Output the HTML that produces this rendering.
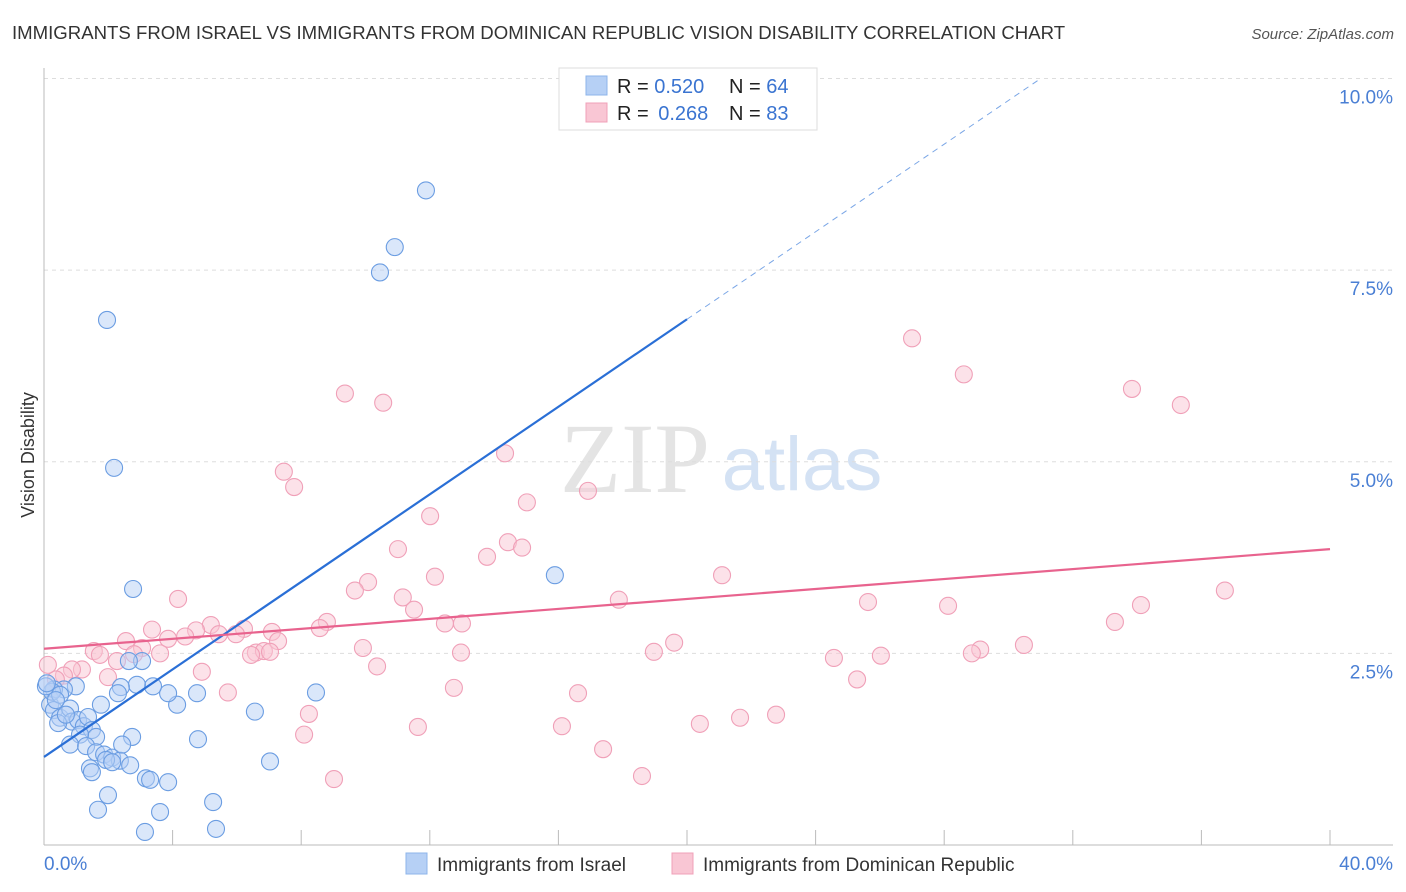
<!DOCTYPE html>
<html><head><meta charset="utf-8"><style>
body{margin:0;background:#fff;font-family:"Liberation Sans",sans-serif;}
svg{display:block}
</style></head><body>
<svg id="chart" width="1406" height="892" font-family="Liberation Sans, sans-serif">
<text x="12" y="39" font-size="18.6" fill="#333">IMMIGRANTS FROM ISRAEL VS IMMIGRANTS FROM DOMINICAN REPUBLIC VISION DISABILITY CORRELATION CHART</text>
<text x="1394" y="39" font-size="15" fill="#555" font-style="italic" text-anchor="end">Source: ZipAtlas.com</text>
<text x="34" y="455" font-size="18" fill="#333" text-anchor="middle" transform="rotate(-90 34 455)">Vision Disability</text>
<g>
<text x="635" y="492" font-size="100" fill="#e4e4e4" font-family="Liberation Serif, serif" text-anchor="middle">ZIP</text>
<text x="802" y="490" font-size="76" fill="#d4e2f4" text-anchor="middle">atlas</text>
</g>
<g id="grid"></g><g id="axes"></g><g id="pts"></g><g id="lines"></g>
<g>
<rect x="559" y="68" width="258" height="62" fill="#fff" stroke="#ddd"/>
<rect x="586" y="76" width="21" height="19" fill="#b6d0f5" stroke="#8db4ea"/>
<rect x="586" y="103" width="21" height="19" fill="#f9c6d4" stroke="#f0a0b8"/>
<text x="617" y="93" font-size="20" fill="#222">R = <tspan fill="#3a74d1">0.520</tspan><tspan x="729">N = </tspan><tspan fill="#3a74d1">64</tspan></text>
<text x="617" y="120" font-size="20" fill="#222">R = <tspan fill="#3a74d1" dx="4">0.268</tspan><tspan x="729">N = </tspan><tspan fill="#3a74d1">83</tspan></text>
</g>
<g>
<rect x="406" y="853" width="21" height="21" fill="#b6d0f5" stroke="#8db4ea"/>
<text x="437" y="871" font-size="19" fill="#333">Immigrants from Israel</text>
<rect x="672" y="853" width="21" height="21" fill="#f9c6d4" stroke="#f0a0b8"/>
<text x="703" y="871" font-size="19" fill="#333">Immigrants from Dominican Republic</text>
</g>
</svg>
<script>
const yTicks=[2.5,5,7.5,10];
const yTickLabels=["2.5%","5.0%","7.5%","10.0%"];
const xTickVals=[0,4,8,12,16,20,24,28,32,36,40];
const xEndLabels=["0.0%","40.0%"];
const israelX=[11.88,10.91,10.45,1.96,2.18,2.77,15.89,8.46,6.56,7.03,4.76,4.79,4.14,3.86,3.39,2.89,3.05,2.64,2.39,2.30,1.77,0.99,0.62,0.31,0.19,0.31,0.50,0.81,0.87,1.06,1.24,1.37,1.49,1.62,1.12,0.81,1.31,1.62,1.87,2.12,2.36,2.68,1.43,1.93,2.74,2.43,1.49,1.99,1.68,3.17,3.30,3.86,3.61,3.14,5.26,5.35,0.25,0.06,0.44,0.68,0.50,0.09,2.12,0.37];
const israelY=[8.54,7.80,7.47,6.85,4.92,3.34,3.52,1.99,1.74,1.09,1.98,1.38,1.83,1.98,2.07,2.09,2.40,2.40,2.06,1.98,1.83,2.07,2.03,2.03,1.83,1.76,1.66,1.78,1.61,1.63,1.55,1.67,1.50,1.41,1.44,1.31,1.29,1.21,1.18,1.14,1.10,1.04,1.00,1.11,1.41,1.31,0.95,0.65,0.46,0.87,0.85,0.82,0.43,0.17,0.56,0.21,2.00,2.07,1.59,1.70,1.96,2.11,1.08,1.89];
const domX=[27.00,28.61,33.84,35.36,9.36,10.55,14.34,7.46,7.78,16.92,15.02,12.01,14.43,11.01,14.87,13.78,21.09,12.16,10.08,9.67,11.16,11.51,17.88,25.63,28.12,36.73,34.12,33.31,8.80,8.58,7.09,4.17,5.19,4.73,4.39,3.86,3.36,2.55,3.05,2.80,1.55,1.74,6.22,5.97,5.44,7.28,13.00,12.47,9.92,12.97,19.60,18.97,6.59,6.84,7.03,6.44,30.48,29.12,28.86,26.03,24.57,10.36,4.91,3.61,2.27,1.99,1.18,0.87,0.62,0.37,0.12,5.72,12.75,16.61,8.24,8.09,11.63,16.11,20.40,21.65,22.77,17.39,18.60,9.02,25.29];
const domY=[6.61,6.14,5.95,5.74,5.89,5.77,5.11,4.87,4.67,4.62,4.47,4.29,3.95,3.86,3.88,3.76,3.52,3.50,3.43,3.32,3.23,3.07,3.20,3.17,3.12,3.32,3.13,2.91,2.91,2.83,2.78,3.21,2.87,2.80,2.72,2.69,2.81,2.66,2.57,2.49,2.53,2.48,2.82,2.75,2.75,2.66,2.89,2.89,2.57,2.51,2.64,2.52,2.51,2.53,2.52,2.48,2.61,2.55,2.50,2.47,2.44,2.33,2.26,2.50,2.40,2.19,2.29,2.29,2.21,2.16,2.35,1.99,2.05,1.98,1.71,1.44,1.54,1.55,1.58,1.66,1.70,1.25,0.90,0.86,2.16];
const israelFit=[1.149,0.2855];
const domFit=[2.56,0.0325];
const NS='http://www.w3.org/2000/svg';
const X=v=>44+v/40*1286, Y=v=>845-v*76.65;
function mk(t,a,p){const e=document.createElementNS(NS,t);for(const k in a)e.setAttribute(k,a[k]);p.appendChild(e);return e;}
const grid=document.getElementById('grid'),axes=document.getElementById('axes'),pts=document.getElementById('pts'),lines=document.getElementById('lines');
yTicks.forEach((v,i)=>{
 const l=mk('line',{x1:44,x2:1393,y1:Y(v),y2:Y(v),stroke:'#ddd','stroke-dasharray':'4,4'},grid);
 
 
 const t=mk('text',{x:1393,y:Y(v)+25,'font-size':19,fill:'#4a7fd4','text-anchor':'end'},axes);
 t.textContent=yTickLabels[i];
 
 
});
let a=mk('line',{x1:44,x2:44,y1:68,y2:845,stroke:'#bbb'},axes);


a=mk('line',{x1:44,x2:1393,y1:845,y2:845,stroke:'#bbb'},axes);


xTickVals.forEach(v=>{
 const t=mk('line',{x1:X(v),x2:X(v),y1:830,y2:845,stroke:'#bbb'},axes);
 
 
});
[[0,'start',44],[40,'end',1393]].forEach((d,i)=>{
 const t=mk('text',{x:d[2],y:870,'font-size':19,fill:'#4a7fd4','text-anchor':d[1]},axes);
 t.textContent=xEndLabels[i];
 
 
});
function draw(xs,ys,fill,stroke,name){xs.forEach((x,i)=>{
 const c=mk('circle',{cx:X(x),cy:Y(ys[i]),r:8.5,fill:fill,'fill-opacity':0.5,stroke:stroke,'stroke-width':1.1},pts);
 
 
});}
draw(domX,domY,'#f9c6d4','#f0a0b8','point-dominican');
draw(israelX,israelY,'#b6d0f5','#6b9de2','point-israel');
let ln=mk('line',{x1:X(0),y1:Y(israelFit[0]),x2:X(20),y2:Y(israelFit[0]+20*israelFit[1]),stroke:'#2a6fd6','stroke-width':2.2},lines);


const xe=(10-israelFit[0])/israelFit[1];
ln=mk('line',{x1:X(20),y1:Y(israelFit[0]+20*israelFit[1]),x2:X(xe),y2:Y(10),stroke:'#7aa6e6','stroke-width':1,'stroke-dasharray':'6,5'},lines);


ln=mk('line',{x1:X(0),y1:Y(domFit[0]),x2:X(40),y2:Y(domFit[0]+40*domFit[1]),stroke:'#e8638e','stroke-width':2.2},lines);


</script>
</body></html>
